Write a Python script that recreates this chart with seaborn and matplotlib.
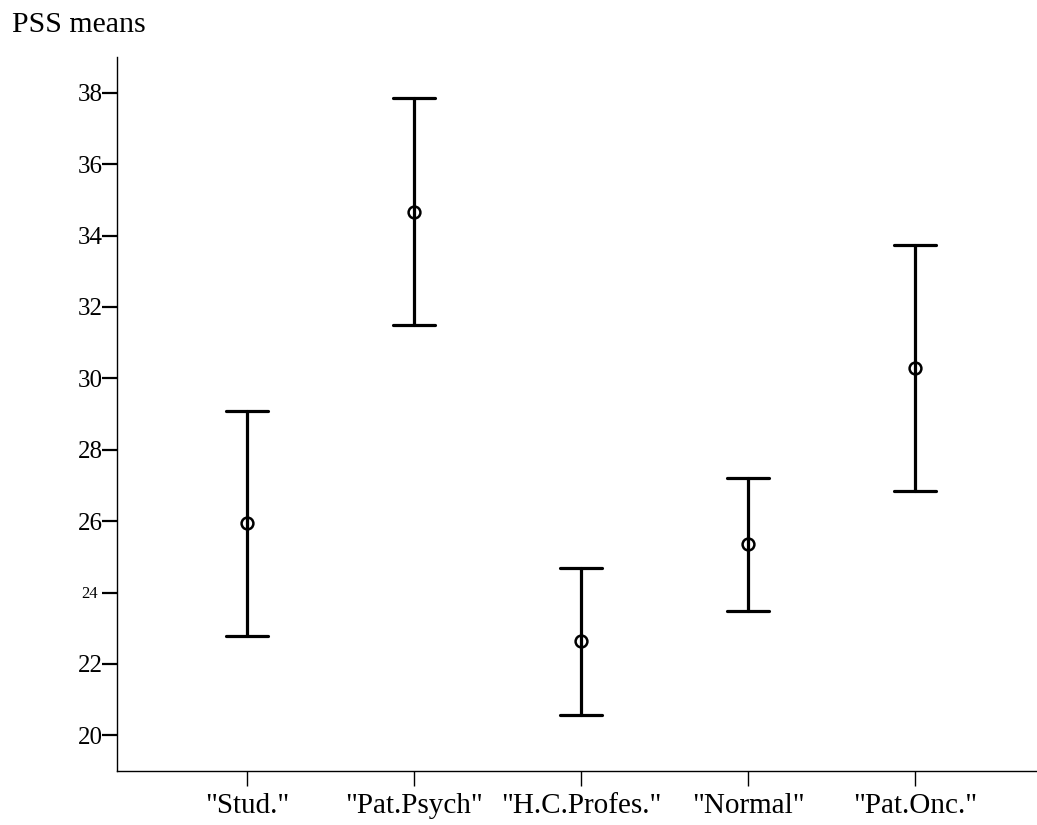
import pandas as pd
import matplotlib.pyplot as plt
import matplotlib.transforms as mtransforms
import seaborn as sns

# Group means and interval ends
groups = ['"Stud."', '"Pat.Psych"', '"H.C.Profes."', '"Normal"', '"Pat.Onc."']
means = [25.95, 34.66, 22.64, 25.35, 30.29]
lower = [22.78, 31.48, 20.58, 23.49, 26.84]
upper = [29.09, 37.84, 24.69, 27.21, 33.73]
y_ticks = [20, 22, 24, 26, 28, 30, 32, 34, 36, 38]

# long table: three values per group, median = mean, min/max = interval ends
rows = []
for g, lo, m, hi in zip(groups, lower, means, upper):
    for v in (lo, m, hi):
        rows.append({"group": g, "pss": v})
df = pd.DataFrame(rows)

sns.set_style("ticks")
plt.rcParams["font.family"] = ["Liberation Serif", "DejaVu Serif"]
plt.rcParams["text.color"] = "black"

fig = plt.figure(figsize=(10.37, 8.25), dpi=100)
ax = fig.add_axes([117 / 1037, 54 / 825, 1 - 117 / 1037, (771 - 57) / 825])

sns.pointplot(data=df, x="group", y="pss", order=groups,
              estimator="median", errorbar=("pi", 100),
              color="black", linestyle="none", markers="o",
              capsize=0.25, err_kws={"linewidth": 2.3},
              markersize=8.5, markerfacecolor="none", markeredgewidth=1.8,
              ax=ax)

ax.set_xlim(-0.78, 4.73)
ax.set_ylim(19, 39)
ax.set_yticks(y_ticks)
ax.set_xlabel("")
ax.set_ylabel("")
sns.despine(ax=ax)
for s in ("left", "bottom"):
    ax.spines[s].set_linewidth(1.0)
    ax.spines[s].set_color("black")

ax.tick_params(axis="y", length=11, width=1.6, pad=-1, labelsize=18, colors="black")
ax.tick_params(axis="x", length=11, width=1.0, pad=5, labelsize=21, colors="black")

# the "24" label is drawn smaller in the source
for lab in ax.get_yticklabels():
    if lab.get_text() == "24":
        lab.set_fontsize(12)
        lab.set_transform(lab.get_transform() +
                          mtransforms.ScaledTranslation(-5 / 100, 0, fig.dpi_scale_trans))

fig.text(12 / 1037, 1 - 32 / 825, "PSS means", fontsize=21.5, color="black",
         va="baseline", ha="left")

fig.savefig("out.png", dpi=100, facecolor="white")
